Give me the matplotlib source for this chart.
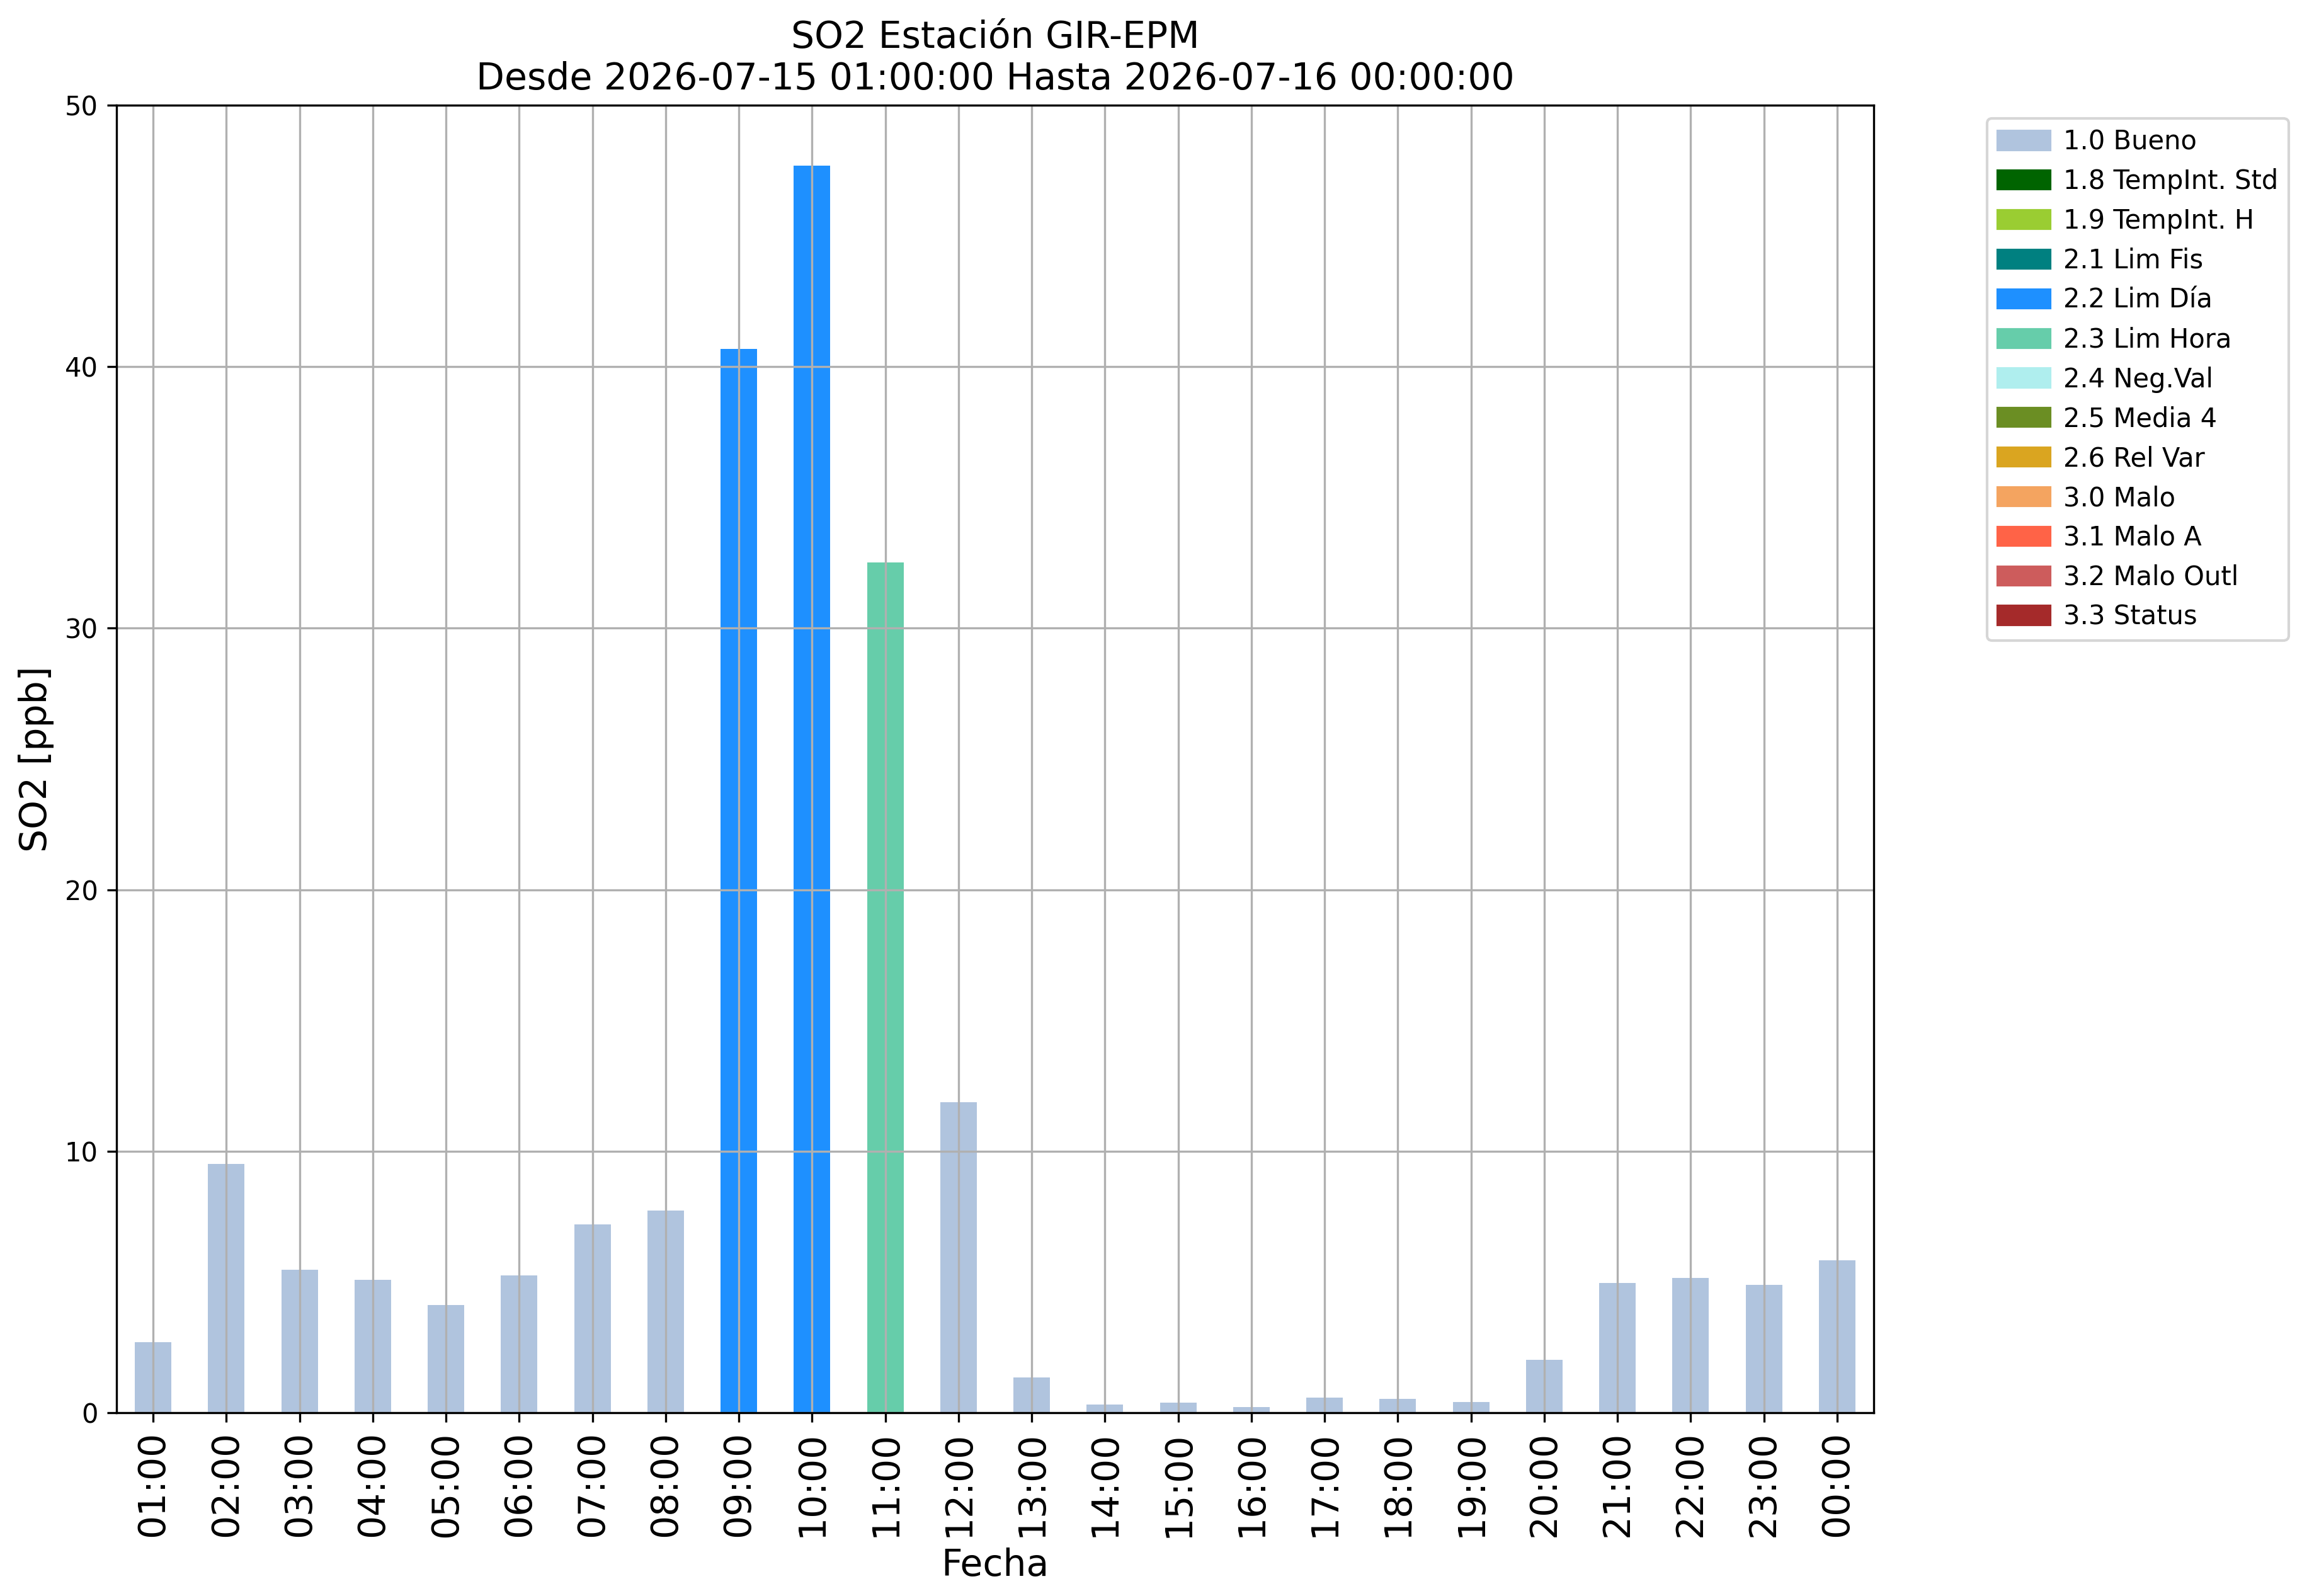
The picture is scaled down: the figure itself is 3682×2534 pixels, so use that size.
import matplotlib
matplotlib.use("Agg")
import matplotlib.pyplot as plt
import matplotlib.patches as mpatches
import numpy as np

horas = ["01:00", "02:00", "03:00", "04:00", "05:00", "06:00", "07:00", "08:00",
         "09:00", "10:00", "11:00", "12:00", "13:00", "14:00", "15:00", "16:00",
         "17:00", "18:00", "19:00", "20:00", "21:00", "22:00", "23:00", "00:00"]
so2 = [2.69, 9.51, 5.47, 5.07, 4.13, 5.26, 7.20, 7.74,
       40.67, 47.68, 32.52, 11.87, 1.36, 0.32, 0.38, 0.22,
       0.57, 0.53, 0.41, 2.02, 4.95, 5.15, 4.89, 5.82]
flags = ["1.0"] * 8 + ["2.2", "2.2", "2.3"] + ["1.0"] * 13

flag_names = ["1.0 Bueno", "1.8 TempInt. Std", "1.9 TempInt. H", "2.1 Lim Fis",
              "2.2 Lim Día", "2.3 Lim Hora", "2.4 Neg.Val", "2.5 Media 4",
              "2.6 Rel Var", "3.0 Malo", "3.1 Malo A", "3.2 Malo Outl", "3.3 Status"]
flag_colors = ["lightsteelblue", "darkgreen", "yellowgreen", "teal",
               "dodgerblue", "mediumaquamarine", "paleturquoise", "olivedrab",
               "goldenrod", "sandybrown", "tomato", "indianred", "brown"]
color_of = {n.split()[0]: c for n, c in zip(flag_names, flag_colors)}

fig = plt.figure(figsize=(3682 / 300, 2534 / 300), dpi=300)
ax = fig.add_axes([185 / 3682, 1 - 2243 / 2534, 2790 / 3682, 2076 / 2534])

x = np.arange(len(horas))
ax.bar(x, so2, width=0.5, color=[color_of[f] for f in flags])
ax.set_xlim(-0.5, len(horas) - 0.5)
ax.set_ylim(0, 50)
ax.set_xticks(x)
ax.set_xticklabels(horas, rotation=90, fontsize=14)
ax.grid(True)
ax.set_xlabel("Fecha", fontsize=14)
ax.set_ylabel("SO2 [ppb]", fontsize=14)
ax.set_title("SO2 Estación GIR-EPM\nDesde 2026-07-15 01:00:00 Hasta 2026-07-16 00:00:00",
             fontsize=14)

handles = [mpatches.Patch(color=c, label=n) for n, c in zip(flag_names, flag_colors)]
ax.legend(handles=handles, bbox_to_anchor=(1.057, 1), loc="upper left", fontsize=10,
          handletextpad=0.5)

fig.savefig("out.png", dpi=300)
